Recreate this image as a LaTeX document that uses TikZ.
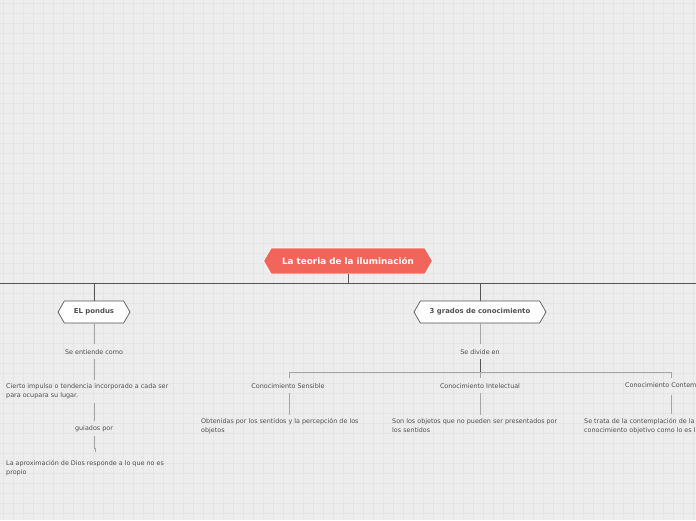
\documentclass[tikz,border=0pt]{standalone}
\usepackage{fontspec}
\setmainfont{DejaVu Sans}
\usetikzlibrary{shapes.symbols,positioning}
\definecolor{bggray}{RGB}{237,237,237}
\definecolor{gridgray}{RGB}{229,229,229}
\definecolor{rootred}{RGB}{242,101,90}
\definecolor{textgray}{RGB}{80,80,80}
\definecolor{linegray}{RGB}{165,165,165}
\definecolor{trunkgray}{RGB}{85,85,85}
\tikzset{
  hexbox/.style={shape=signal, signal to=east and west,
                 signal pointer angle=120, inner ysep=0pt, inner xsep=9pt},
  rootbox/.style={hexbox, fill=rootred, draw=white, line width=0.8pt,
                  text=white, font=\fontsize{8.8}{10}\selectfont\bfseries,
                  minimum width=169pt, minimum height=26pt},
  topicbox/.style={hexbox, fill=white, draw=trunkgray, line width=0.7pt,
                   text=textgray, font=\fontsize{6.9}{8}\selectfont\bfseries,
                   minimum height=22pt},
  linklabel/.style={text=textgray, font=\fontsize{6.4}{8}\selectfont,
                    inner sep=1pt},
  leafnote/.style={text=textgray, font=\fontsize{6.4}{9}\selectfont,
                   align=left, inner sep=0pt, anchor=north west},
  trunk/.style={draw=trunkgray, line width=0.9pt},
  twig/.style={draw=linegray, line width=0.8pt},
}
\begin{document}
\begin{tikzpicture}[x=1pt,y=-1pt]
\useasboundingbox (0,0) rectangle (696,520);
\fill[bggray] (0,0) rectangle (696,520);
\foreach \g in {3,13,...,693}
  \draw[gridgray, line width=0.6pt] (\g,0) -- (\g,520);
\foreach \g in {3,13,...,513}
  \draw[gridgray, line width=0.6pt] (0,\g) -- (696,\g);

% root and first level
\node[rootbox] (root) at (348,261) {La teoria de la iluminación};
\coordinate (busL) at (0,283);
\coordinate (busR) at (696,283);
\node[topicbox, minimum width=72pt] (pondus) at (94,312) {EL pondus};
\node[topicbox, minimum width=132pt] (grados) at (480,312) {3 grados de conocimiento};

\draw[trunk] (busL) -- (busR);
\draw[trunk] (root.south) -- (root.south |- busL);
\draw[trunk] (pondus.north |- busL) -- (pondus.north);
\draw[trunk] (grados.north |- busL) -- (grados.north);

% left branch
\node[linklabel] (entiende) at (94,352) {Se entiende como};
\node[leafnote] (impulso) at (6,383)
  {Cierto impulso o tendencia incorporado a cada ser\\para ocupara su lugar.};
\node[linklabel] (guiados) at (94,429) {guiados por};
\node[leafnote] (aproximacion) at (6,460)
  {La aproximación de Dios responde a lo que no es\\propio};

\draw[twig, shorten >=4pt] (pondus.south) -- (entiende.north);
\draw[twig, shorten <=3pt, shorten >=3pt] (entiende.south) -- (entiende.south |- impulso.north);
\draw[twig, shorten >=4pt] (94,403) -- (guiados.north);
\draw[twig, shorten <=3pt] (guiados.south) -- ++(0,15) -- ++(1,0) -- ++(0,4);

% right branch
\node[linklabel] (divide) at (480,352) {Se divide en};
\coordinate (fork) at (480,372);
\node[linklabel] (sensible) at (288,386) {Conocimiento Sensible};
\node[linklabel] (intelectual) at (480,386) {Conocimiento Intelectual};
\node[linklabel, anchor=west] (contemplativo) at (624,386) {Conocimiento Contemplativo};
\node[leafnote] (obtenidas) at (201,418)
  {Obtenidas por los sentidos y la percepción de los\\objetos};
\node[leafnote] (sonobjetos) at (392,418)
  {Son los objetos que no pueden ser presentados por\\los sentidos};
\node[leafnote] (setrata) at (584,418)
  {Se trata de la contemplación de la verdad,\\conocimiento objetivo como lo es la};

\draw[twig, shorten >=4pt] (grados.south) -- (divide.north);
\draw[trunk, shorten <=3pt] (divide.south) -- (fork);
\draw[twig] (289,378) -- (289,372) -- (671,372) -- (671,378);
\draw[twig] (fork) -- (480,378);
\draw[twig, shorten <=3pt, shorten >=3pt] (sensible.south -| 289,0) -- (obtenidas.north -| 289,0);
\draw[twig, shorten <=3pt, shorten >=3pt] (intelectual.south) -- (intelectual.south |- sonobjetos.north);
\draw[twig] (671,395) -- (671,414);
\end{tikzpicture}
\end{document}
